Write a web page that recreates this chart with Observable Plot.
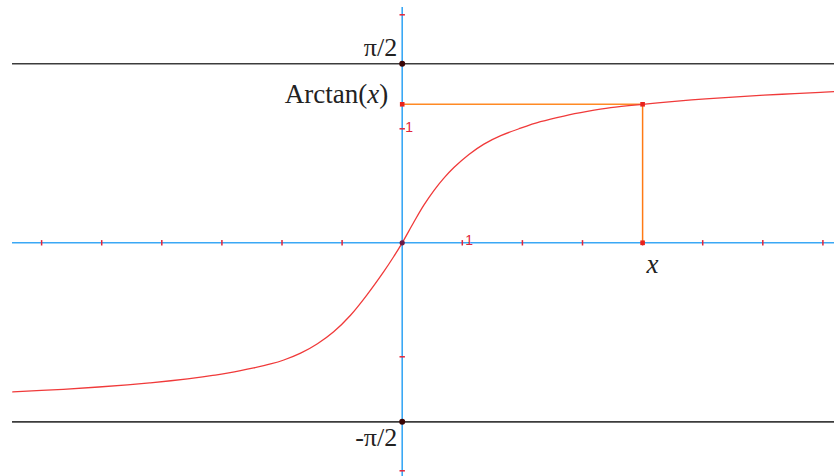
<!DOCTYPE html>
<html>
<head>
<meta charset="utf-8">
<script src="https://cdn.jsdelivr.net/npm/d3@7"></script>
<script src="https://cdn.jsdelivr.net/npm/@observablehq/plot@0.6"></script>
<style>
  html, body { margin: 0; padding: 0; background: #fff; }
  #chart { width: 834px; height: 476px; }
</style>
</head>
<body>
<div id="chart"></div>
<script>
// Sampled points of the arctangent curve
const curveX = [-6.48, -5.64, -5.05, -4.57, -4.19, -3.85, -3.57, -3.32, -3.11, -2.91, -2.69, -2.47, -2.19, -1.97, -1.69, -1.41, -1.14, -0.86, -0.58, -0.31, -0.14, 0, 0.19, 0.36, 0.53, 0.69, 0.86, 1.11, 1.36, 1.64, 1.97, 2.30, 2.69, 3.08, 3.47, 4.00, 4.58, 5.05, 5.63, 6.32, 6.96, 7.19];
const curveY = [-1.308, -1.285, -1.265, -1.246, -1.228, -1.210, -1.193, -1.176, -1.160, -1.143, -1.122, -1.098, -1.063, -1.028, -0.968, -0.885, -0.780, -0.635, -0.452, -0.255, -0.120, 0, 0.178, 0.330, 0.460, 0.565, 0.660, 0.775, 0.866, 0.940, 1.005, 1.062, 1.112, 1.152, 1.185, 1.215, 1.243, 1.262, 1.283, 1.303, 1.320, 1.326];

// Tick positions on both axes
const xTicks = [-6, -5, -4, -3, -2, -1, 1, 2, 3, 4, 5, 6, 7];
const yTicks = [-2, -1, 1, 2];

// Marked point on the curve
const pointX = 4;
const pointY = 1.215;

// Asymptotes and labels
const asymptotes = [Math.PI / 2, -Math.PI / 2];
const asymptoteLabels = ["π/2", "-π/2"];
const unitLabel = "1";
const valueLabel = "Arctan(x)";
const inputLabel = "x";

// Visible extent of the plane
const xMin = -6.684, xMax = 7.193;
const yMin = -2.05, yMax = 2.1254;
const axisStart = -6.484, yAxisTop = 2.064;

const serif = "'Liberation Serif', 'Times New Roman', serif";
const sans = "'Liberation Sans', Arial, sans-serif";

const vTick = { draw(ctx) { ctx.moveTo(0, -2.7); ctx.lineTo(0, 2.7); } };
const hTick = { draw(ctx) { ctx.moveTo(-2.7, 0); ctx.lineTo(2.7, 0); } };

const curve = curveX.map((x, i) => ({ x, y: curveY[i] }));

const chart = Plot.plot({
  width: 834,
  height: 476,
  marginTop: 0, marginRight: 0, marginBottom: 0, marginLeft: 0,
  x: { domain: [xMin, xMax], axis: null },
  y: { domain: [yMin, yMax], axis: null },
  style: { background: "#fff", overflow: "visible" },
  marks: [
    // horizontal asymptotes
    Plot.ruleY(asymptotes, { x1: axisStart, x2: xMax, stroke: "#3c3c3c", strokeWidth: 1.6 }),
    // coordinate axes
    Plot.ruleY([0], { x1: axisStart, x2: xMax, stroke: "#3aa8f5", strokeWidth: 1.6 }),
    Plot.ruleX([0], { y1: yMin, y2: yAxisTop, stroke: "#3aa8f5", strokeWidth: 1.6 }),
    // axis ticks
    Plot.dot(xTicks, { x: d => d, y: 0, symbol: vTick, fill: "none", stroke: "#e2253a", strokeWidth: 1.5 }),
    Plot.dot(yTicks, { x: 0, y: d => d, symbol: hTick, fill: "none", stroke: "#e2253a", strokeWidth: 1.5 }),
    // projections of the marked point
    Plot.ruleY([pointY], { x1: 0, x2: pointX, stroke: "#ff8a24", strokeWidth: 1.5 }),
    Plot.ruleX([pointX], { y1: 0, y2: pointY, stroke: "#ff7a14", strokeWidth: 1.5 }),
    // the curve
    Plot.line(curve, { x: "x", y: "y", curve: "catmull-rom", stroke: "#f03a3a", strokeWidth: 1.3 }),
    // markers
    Plot.dot([[0, pointY], [pointX, pointY], [pointX, 0]], { x: d => d[0], y: d => d[1], symbol: "square", r: 2.6, fill: "#e8221c" }),
    Plot.dot(asymptotes, { x: 0, y: d => d, r: 3, fill: "#3a0606" }),
    Plot.dot([0], { x: 0, y: 0, r: 2.6, fill: "#6a1a45" }),
    // unit labels
    Plot.text([1], { x: d => d, y: 0, text: () => unitLabel, textAnchor: "start", lineAnchor: "bottom", dx: 3, dy: 2, fill: "#e2253a", fontSize: 14, fontFamily: sans }),
    Plot.text([1], { x: 0, y: d => d, text: () => unitLabel, textAnchor: "start", lineAnchor: "bottom", dx: 3, dy: 3, fill: "#e2253a", fontSize: 14, fontFamily: sans }),
    // asymptote labels
    Plot.text([asymptotes[0]], { x: 0, y: d => d, text: () => asymptoteLabels[0], textAnchor: "end", lineAnchor: "bottom", dx: -5, dy: -8, fill: "#222", fontSize: 26, fontFamily: serif }),
    Plot.text([asymptotes[1]], { x: 0, y: d => d, text: () => asymptoteLabels[1], textAnchor: "end", lineAnchor: "bottom", dx: -5, dy: 24, fill: "#222", fontSize: 26, fontFamily: serif }),
    // value and input labels
    Plot.text([pointY], { x: 0, y: d => d, text: () => valueLabel, textAnchor: "end", lineAnchor: "bottom", dx: -14, dy: -1, fill: "#222", fontSize: 27, fontFamily: serif }),
    Plot.text([pointX], { x: d => d, y: 0, text: () => inputLabel, textAnchor: "middle", lineAnchor: "bottom", dx: 10, dy: 30, fill: "#222", fontSize: 27, fontStyle: "italic", fontFamily: serif })
  ]
});

// Set the variable inside "Arctan(x)" in italics
d3.select(chart).selectAll("text")
  .filter(function () { return this.textContent === valueLabel; })
  .each(function () {
    const t = d3.select(this);
    t.text(null);
    t.append("tspan").text("Arctan(");
    t.append("tspan").attr("font-style", "italic").text("x");
    t.append("tspan").text(")");
  });

document.getElementById("chart").appendChild(chart);
</script>
</body>
</html>
